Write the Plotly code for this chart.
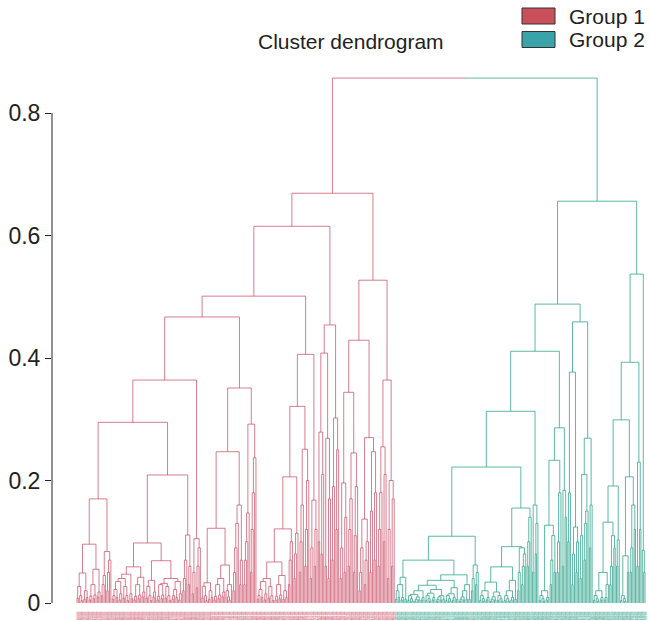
import re
import plotly.graph_objects as go

# ---------------- data: merge heights ----------------
# grammar:  x = leaf ;  (A,B)h = merge at height h ;  [A h1 B h2 C ...] = chain ;  $name = sub-tree
MOTIFS = {
    "a": "((x,x).006,(x,x).009).02",
    "b": "(x,(x,x).007).015",
    "c": "((x,x).008,(x,(x,x).004).012).027",
    "d": "(((x,x).005,x).011,((x,x).007,x).013).03",
    "e": "((x,x).01,x).018",
    "g": "(x,(x,(x,x).005).01).02",
    "h": "((((x,x).006,x).012,(x,x).009).022,((x,x).005,x).015).035",
    "p": "((x,x).004,(x,(x,x).003).007).012",
    "q": "((x,x).005,x).009",
    "r": "(((x,x).003,x).006,(x,x).005).01",
    "t": "(x,x).006",
}

GROUP1 = {
    "N096": "(($c,$a).049,($d,$e).055).096",
    "S084": "([x .012 x .03 x .045 x],[x .02 x .05 x .07 x]).084",
    "N170": "($N096,$S084).17",
    "N059": "((($h,$c).04,$b).047,($d,$e).042).059",
    "N069": "(($c,$e).037,(($d,$c).032,$h).04).069",
    "N098": "($N059,$N069).098",
    "S111": "([x .02 x .04 x .07 x],[x .03 x .06 x]).111",
    "N209": "($N098,$S111).209",
    "N295": "($N170,$N209).295",
    "S105": "([x .015 x .05 x],[x .025 x .06 x .09 x]).105",
    "N364": "($N295,$S105).364",
    "N122": "(($c,$a).033,(($d,$e).04,($g,x).03).062).122",
    "S160": "([x .02 x .05 x .09 x .13 x],[x .03 x .07 x]).16",
    "N247": "($N122,$S160).247",
    "S292": "([x .03 x .07 x .1 x .147 x],[x .05 x .12 x .18 x .237 x]).292",
    "N351": "($N247,$S292).351",
    "N467": "($N364,$N351).467",
    "N067": "(($h,$c).04,($d,$a).045).067",
    "S100": "[x .03 x .07 x .1 x]",
    "N121": "($N067,$S100).121",
    "S114": "[x .04 x .08 x .114 x]",
    "N206": "($N121,$S114).206",
    "S251": "([x .05 x .1 x .16 x],[x .06 x .12 x .2 x]).251",
    "N321": "($N206,$S251).321",
    "S168": "([x .04 x .09 x],[x .06 x .12 x]).168",
    "N406": "($N321,$S168).406",
    "N501": "($N467,$N406).501",
    "C279": "([x .1 x],[x .08 x .21 x]).279",
    "C269": "([x .06 x],[x .04 x .17 x]).269",
    "S302": "([x .07 x .19 x],[x .12 x .25 x]).302",
    "N454": "(($C279,$C269).408,$S302).454",
    "N615": "($N501,$N454).615",
    "S196": "([x .04 x .09 x],[x .05 x .14 x]).196",
    "S245": "([x .06 x .12 x .17 x],[x .05 x .11 x .19 x]).245",
    "N137": "([x .02 x .05 x .09 x],[x .03 x .07 x .1 x]).137",
    "S247": "([x .05 x .15 x],[x .07 x .18 x]).247",
    "N429": "(($S196,$S245).344,($N137,$S247).27).429",
    "S255": "([x .06 x .12 x .18 x],[x .1 x .21 x]).255",
    "S200": "([x .04 x .12 x],[x .06 x .17 x]).2",
    "N527": "($N429,($S255,$S200).364).527",
    "TOP": "($N615,$N527).669",
}

GROUP2 = {
    "R042": "(($a,$q).03,$t).042",
    "R029": "((($p,$r).014,$q).02,(($p,$q).016,($r,$t).012).022).029",
    "R025": "(($p,$q).015,$t).025",
    "R035": "(($r,$t).02,$t).03",
    "R070": "($R042,(($R029,$R025).037,$R035).046).07",
    "S062": "([x .02 x .04 x],[x .03 x .05 x]).062",
    "R109": "($R070,$S062).109",
    "R059": "((($p,$q).02,($r,$p).018).034,(($p,$q).02,$t).037).059",
    "S090": "([x .02 x .05 x],[x .03 x .06 x .08 x]).09",
    "S140": "[x .06 x .1 x .14 x]",
    "R155": "(($R059,$S090).092,$S140).155",
    "R222": "($R109,$R155).222",
    "S160": "([x .05 x],[x .08 x .13 x]).16",
    "R313": "($R222,$S160).313",
    "R127": "(($p,$q).02,([x .03 x .07 x],[x .05 x]).11).127",
    "S180": "[x .05 x .1 x .18 x]",
    "S184": "([x .06 x],[x .14 x]).184",
    "R286": "(($R127,$S180).233,$S184).286",
    "R411": "($R313,$R286).411",
    "S18": "[x .1 x .18 x]",
    "S124": "([x .03 x .08 x],[x .05 x .1 x]).124",
    "S210": "([x .04 x .11 x],[x .07 x .13 x .15 x]).21",
    "S16b": "[x .09 x .16 x]",
    "R459": "(($S18,$S124).377,($S210,$S16b).269).459",
    "R488": "($R411,$R459).488",
    "R050": "(($p,$q).02,($q,x).03).05",
    "S110": "([x .03 x .06 x],[x .09 x]).11",
    "S103": "[x .06 x .103 x]",
    "R191": "(($R050,$S110).132,$S103).191",
    "R077": "($p,[x .05 x]).077",
    "S16c": "([x .05 x .09 x],[x .12 x]).16",
    "R299": "($R191,($R077,$S16c).206).299",
    "S230": "([x .06 x],[x .12 x]).23",
    "S086": "(x,(x,x).05).086",
    "R537": "(($R299,$S230).393,$S086).537",
    "TOP": "($R488,$R537).656",
}

ROOT_HEIGHT = 0.857
GROUP_NAMES = ["Group 1", "Group 2"]
Y_TICKS = [0, 0.2, 0.4, 0.6, 0.8]
Y_TICK_TEXT = ["0", "0.2", "0.4", "0.6", "0.8"]

# ---------------- parser ----------------
TOK = re.compile(r"\$\w+|[()\[\],]|x|\d*\.\d+|\d+")
LEAF = "leaf"


def parse(text, lib):
    toks = TOK.findall(text)
    pos = 0

    def node():
        nonlocal pos
        t = toks[pos]
        pos += 1
        if t == "x":
            return LEAF
        if t.startswith("$"):
            key = t[1:]
            return parse(lib[key] if key in lib else MOTIFS[key], lib)
        if t == "(":
            a = node()
            if toks[pos] == ")":
                pos += 1
                return a
            pos += 1  # ','
            b = node()
            pos += 1  # ')'
            h = float(toks[pos])
            pos += 1
            return (a, b, h)
        if t == "[":
            cur = node()
            while toks[pos] != "]":
                h = float(toks[pos])
                pos += 1
                cur = (cur, node(), h)
            pos += 1
            return cur
        raise ValueError(t)

    return node()


tree1 = parse(GROUP1["TOP"], GROUP1)
tree2 = parse(GROUP2["TOP"], GROUP2)

leaf_group = []
segs = {0: ([], []), 1: ([], [])}


def layout(n, g):
    if n == LEAF:
        leaf_group.append(g)
        return float(len(leaf_group)), 0.0
    xl, hl = layout(n[0], g)
    xr, hr = layout(n[1], g)
    h = n[2]
    xs, ys = segs[g]
    xs += [xl, xl, xr, xr, None]
    ys += [hl, h, h, hr, None]
    return (xl + xr) / 2, h


x1, h1 = layout(tree1, 0)
x2, h2 = layout(tree2, 1)
xm = (x1 + x2) / 2
segs[0][0].extend([x1, x1, xm, None])
segs[0][1].extend([h1, ROOT_HEIGHT, ROOT_HEIGHT, None])
segs[1][0].extend([xm, x2, x2, None])
segs[1][1].extend([ROOT_HEIGHT, ROOT_HEIGHT, h2, None])

N = len(leaf_group)
LINE_COLORS = ["rgba(200,70,95,0.7)", "rgba(40,160,135,0.75)"]
LABEL_COLORS = ["#d9808f", "#5cb8a6"]
BOX_COLORS = ["#c9505a", "#3aa2a9"]

fig = go.Figure()
for g in (0, 1):
    fig.add_trace(go.Scatter(
        x=segs[g][0], y=segs[g][1], mode="lines",
        line=dict(color=LINE_COLORS[g], width=1),
        hoverinfo="skip", showlegend=False))

# pixel geometry (the page is forced to start at 0,0 with the exact size)
W, H = 650, 621
PLOT_L, PLOT_R, PLOT_T, PLOT_B = 52, 650, 60, 606   # pixels of the plot area
Y0_PX, UNIT_PX = 603, 612.5                         # y=0 position, pixels per unit
LEAF_FIRST, LEAF_LAST = 77, 645
plot_w = PLOT_R - PLOT_L
plot_h = PLOT_B - PLOT_T
s = (LEAF_LAST - LEAF_FIRST) / (N - 1)
xmin = 1 - (LEAF_FIRST - PLOT_L) / s
xmax = xmin + plot_w / s
ymin = -(PLOT_B - Y0_PX) / UNIT_PX
ymax = ymin + plot_h / UNIT_PX

tickvals = list(range(1, N + 1))
ticktext = [f"<span style='color:{LABEL_COLORS[g]}'>S{i:04d}</span>"
            for i, g in enumerate(leaf_group, start=1)]

FONT = "Liberation Sans, Arial, sans-serif"
fig.update_layout(
    width=W, height=H, autosize=False,
    margin=dict(l=PLOT_L, r=W - PLOT_R, t=PLOT_T, b=H - PLOT_B, pad=0),
    plot_bgcolor="white", paper_bgcolor="white",
    font=dict(family=FONT, color="#222222"),
    xaxis=dict(range=[xmin, xmax], showgrid=False, zeroline=False, showline=False,
               tickmode="array", tickvals=tickvals, ticktext=ticktext,
               tickangle=90, tickfont=dict(size=3),
               ticks="outside", ticklen=4, tickcolor="rgba(0,0,0,0)",
               automargin=False),
    yaxis=dict(range=[ymin, ymax], showgrid=False, zeroline=False, showline=False,
               tickmode="array", tickvals=Y_TICKS, ticktext=Y_TICK_TEXT,
               ticks="outside", ticklen=6, tickwidth=1, tickcolor="#222222",
               ticklabelstandoff=0,
               tickfont=dict(size=23, color="#222222"), automargin=False),
)

fig.add_shape(type="line", xref="paper", yref="y", x0=0, x1=0, y0=0, y1=0.8,
              line=dict(color="#222222", width=1))


def px_x(p):
    return (p - PLOT_L) / plot_w


def px_y(p):
    return (PLOT_B - p) / plot_h


fig.add_annotation(text="Cluster dendrogram", xref="paper", yref="paper",
                   x=px_x(351), y=px_y(42), xanchor="center", yanchor="middle",
                   showarrow=False, font=dict(size=21, color="#222222"))

for i, name in enumerate(GROUP_NAMES):
    yc = 16 + 23.5 * i
    fig.add_shape(type="rect", xref="paper", yref="paper",
                  x0=px_x(522), x1=px_x(555), y0=px_y(yc + 8), y1=px_y(yc - 8),
                  fillcolor=BOX_COLORS[i], line=dict(color="#333333", width=1))
    fig.add_annotation(text=name, xref="paper", yref="paper",
                       x=px_x(647), y=px_y(yc), xanchor="right", yanchor="middle",
                       showarrow=False, font=dict(size=21, color="#222222"))

POST = ("document.body.style.margin='0px';document.body.style.overflow='hidden';"
        "Plotly.relayout(document.getElementById('{plot_id}'),{width:650,height:621});")
fig.write_html("out.html", post_script=POST,
               config={"displayModeBar": False, "staticPlot": True})
